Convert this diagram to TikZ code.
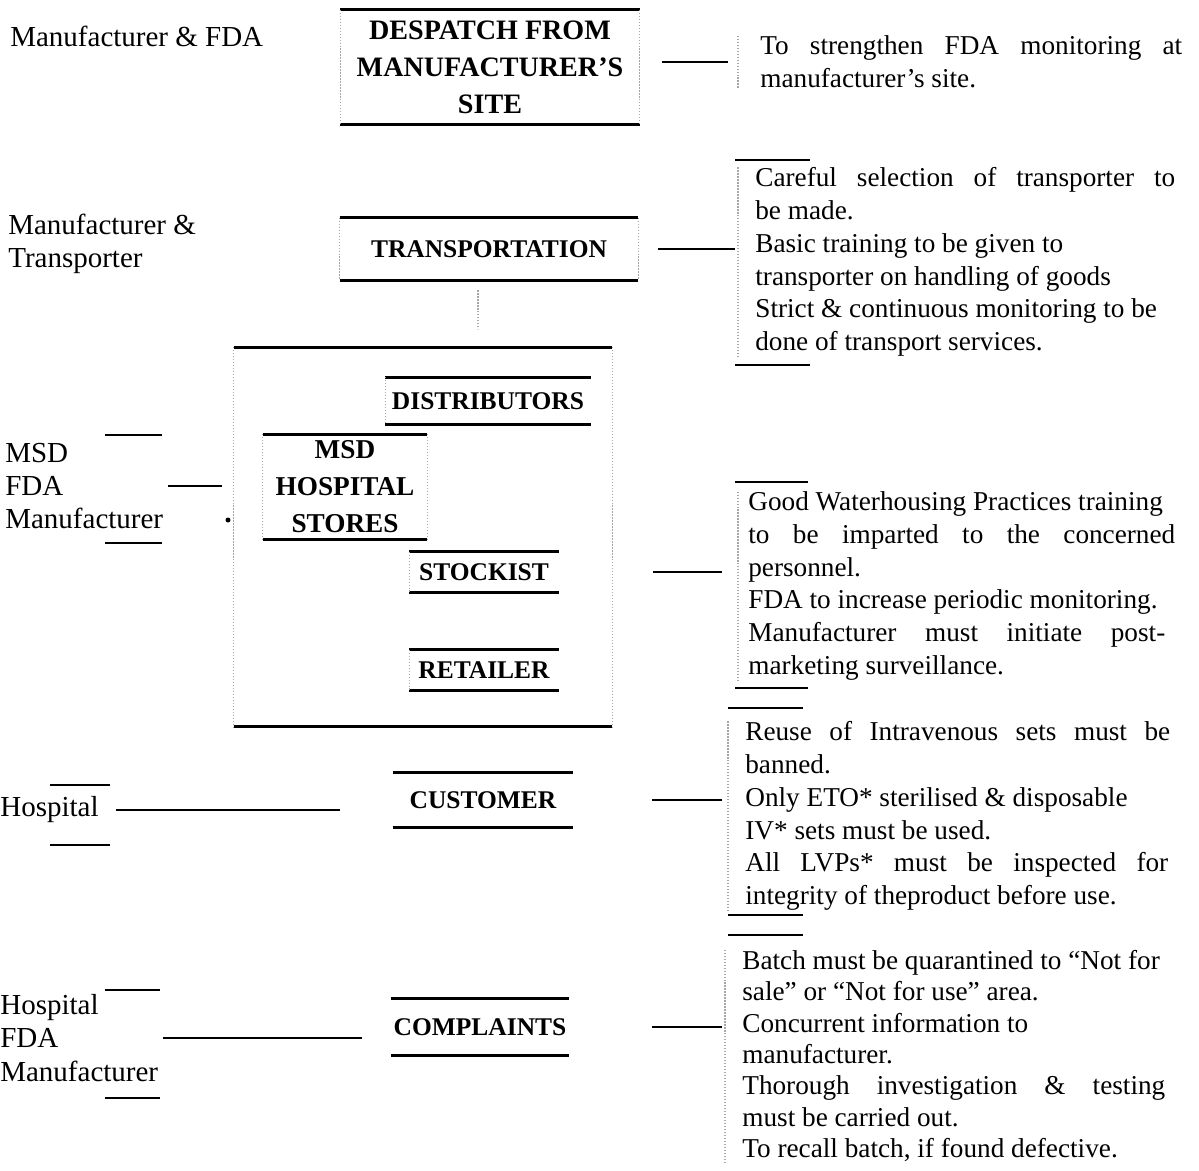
\documentclass[tikz,border=0pt]{standalone}
\usepackage{fontspec}
\setmainfont{Liberation Serif}
\usetikzlibrary{calc}

\newcommand{\fillline}[2]{\makebox[#1][s]{#2}}

\tikzset{
  stage/.style={inner sep=0pt, align=center, font=\fontsize{14.5}{21}\selectfont\bfseries},
  rule/.style={line width=1.6pt},
  side/.style={gray!70, densely dotted, line width=0.7pt},
  link/.style={line width=1.1pt},
  tick/.style={line width=1.1pt},
  who/.style={anchor=west, inner sep=0pt, align=left, font=\fontsize{16.5}{19}\selectfont},
  remedy/.style={anchor=west, inner sep=0pt, align=left, font=\fontsize{15.5}{18.6}\selectfont},
}

\begin{document}
\begin{tikzpicture}[x=0.02cm, y=-0.02cm]
  \useasboundingbox (0,0) rectangle (1199,1170);

  % Stages of the supply chain
  \node[stage, minimum width=5.98cm, minimum height=2.28cm, font=\fontsize{16}{21}\selectfont\bfseries] (desp) at (490,67) {DESPATCH FROM\\MANUFACTURER'S\\SITE};
  \node[stage, minimum width=5.96cm, minimum height=1.24cm] (trans) at (489,249) {TRANSPORTATION};
  \node[minimum width=7.56cm, minimum height=7.58cm, inner sep=0pt] (chain) at (423,537) {};
  \node[stage, minimum width=4.1cm, minimum height=0.94cm] (dist) at (488,401) {DISTRIBUTORS};
  \node[stage, minimum width=3.28cm, minimum height=2.1cm, font=\fontsize{15.5}{21}\selectfont\bfseries] (msd) at (345,487) {MSD\\HOSPITAL\\STORES};
  \node[stage, minimum width=2.98cm, minimum height=0.8cm] (stock) at (484,572) {STOCKIST};
  \node[stage, minimum width=2.98cm, minimum height=0.8cm] (retail) at (484,670) {RETAILER};
  \node[stage, minimum width=3.6cm, minimum height=1.1cm] (cust) at (483,800) {CUSTOMER};
  \node[stage, minimum width=3.54cm, minimum height=1.14cm] (compl) at (480,1027) {COMPLAINTS};

  % Rules above and below each stage
  \foreach \b in {desp,trans,chain,dist,msd,stock,retail,cust,compl} {
    \draw[rule] (\b.north west) -- (\b.north east);
    \draw[rule] (\b.south west) -- (\b.south east);
  }
  \foreach \b in {desp,trans,chain,msd} {
    \draw[side] (\b.north west) -- (\b.south west);
    \draw[side] (\b.north east) -- (\b.south east);
  }
  \foreach \b in {dist,stock,retail}
    \draw[side] (\b.north west) -- (\b.south west);
  \draw[side, shorten <=0.2cm, shorten >=0.36cm] ([xshift=-0.22cm]trans.south) -- ([xshift=-0.22cm]trans.south |- chain.north);

  % Responsible parties
  \node[who] (w1) at (10,36) {Manufacturer \& FDA};
  \node[who] (w2) at (8,244) {Manufacturer \&\\Transporter};
  \node[who] (w3) at (5,486) {MSD\\FDA\\Manufacturer};
  \node[who] (w4) at (0,810) {Hospital};
  \node[who] (w5) at (0,1038) {Hospital\\FDA\\Manufacturer};
  \foreach \xa/\xb/\y in {105/162/435, 105/162/543, 50/110/785, 50/110/845, 105/160/990, 105/160/1098}
    \draw[tick] (\xa,\y) -- (\xb,\y);
  \fill (228,520) circle (2.5);

  % Remedial measures
  \node[remedy] (r1) at (760,62) {\fillline{8.44cm}{To strengthen FDA monitoring at}\\manufacturer's site.};
  \node[remedy] (r2) at (755,262) {\fillline{8.4cm}{Careful selection of transporter to}\\be made.\\Basic training to be given to\\transporter on handling of goods\\Strict \& continuous monitoring to be\\done of transport services.};
  \node[remedy] (r3) at (748,586) {Good Waterhousing Practices training\\\fillline{8.54cm}{to be imparted to the concerned}\\personnel.\\FDA to increase periodic monitoring.\\\fillline{8.34cm}{Manufacturer must initiate post-}\\marketing surveillance.};
  \node[remedy] (r4) at (745,816) {\fillline{8.5cm}{Reuse of Intravenous sets must be}\\banned.\\Only ETO* sterilised \& disposable\\IV* sets must be used.\\\fillline{8.46cm}{All LVPs* must be inspected for}\\integrity of theproduct before use.};
  \node[remedy, font=\fontsize{15.5}{17.9}\selectfont] (r5) at (742,1056) {Batch must be quarantined to “Not for\\sale” or “Not for use” area.\\Concurrent information to\\manufacturer.\\\fillline{8.46cm}{Thorough investigation \& testing}\\must be carried out.\\To recall batch, if found defective.};
  \foreach \xa/\xb/\y in {735/810/160, 735/810/365, 735/808/482, 735/808/688, 728/803/708, 728/803/915, 728/803/935}
    \draw[tick] (\xa,\y) -- (\xb,\y);
  \foreach \n/\dx in {r1/-0.44cm, r2/-0.34cm, r3/-0.2cm, r4/-0.34cm, r5/-0.34cm}
    \draw[side] ([xshift=\dx]\n.north west) -- ([xshift=\dx]\n.south west);

  % Connectors
  \draw[link, shorten <=0.44cm, shorten >=0.64cm] (desp.east |- r1.west) -- (r1.west);
  \draw[link, shorten <=0.4cm, shorten >=0.4cm] (trans.east) -- (trans.east -| r2.west);
  \draw[link, shorten <=0.82cm, shorten >=0.52cm] (chain.east |- stock.east) -- (r3.west |- stock.east);
  \draw[link, shorten <=1.58cm, shorten >=0.46cm] (cust.east) -- (cust.east -| r4.west);
  \draw[link, shorten <=1.67cm, shorten >=0.4cm] (compl.east) -- (compl.east -| r5.west);
  \draw[link, shorten <=0.09cm, shorten >=0.24cm] (w3.east) -- (w3.east -| chain.west);
  \draw[link, shorten <=0.34cm, shorten >=1.06cm] (w4.east) -- (w4.east -| cust.west);
  \draw[link, shorten <=0.09cm, shorten >=0.59cm] (w5.east) -- (w5.east -| compl.west);
\end{tikzpicture}
\end{document}
